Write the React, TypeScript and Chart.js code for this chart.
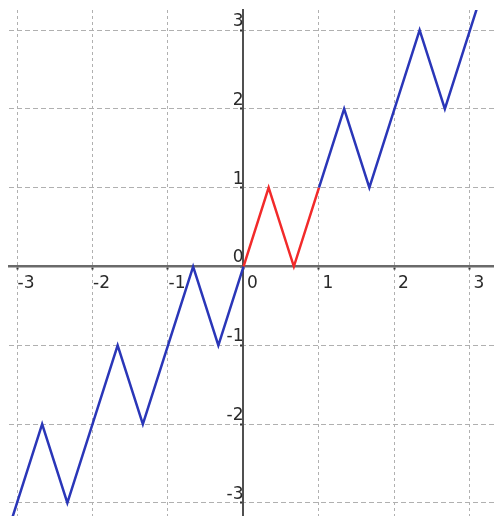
import React, { useEffect, useRef } from "react";
import { Chart, registerables } from "chart.js";

Chart.register(...registerables);

// Blue zig-zag for x <= 0
const blueLeftX = [-3.333, -3, -2.667, -2.333, -2, -1.667, -1.333, -1, -0.667, -0.333, 0];
const blueLeftY = [-4, -3, -2, -3, -2, -1, -2, -1, 0, -1, 0];
// Red segment on [0, 1]
const redX = [0, 0.333, 0.667, 1];
const redY = [0, 1, 0, 1];
// Blue zig-zag for x >= 1
const blueRightX = [1, 1.333, 1.667, 2, 2.333, 2.667, 3, 3.333];
const blueRightY = [1, 2, 1, 2, 3, 2, 3, 4];

const xMin = -3.106;
const xMax = 3.318;
const yMin = -3.165;
const yMax = 3.254;

const BLUE = "#2a36b8";
const RED = "#f22a2a";

const pts = (xs: number[], ys: number[]) => xs.map((x, i) => ({ x, y: ys[i] }));

const noPad = (s: any) => {
  s.paddingTop = 0;
  s.paddingBottom = 0;
  s.paddingLeft = 0;
  s.paddingRight = 0;
};

export default function App() {
  const ref = useRef<HTMLCanvasElement | null>(null);

  useEffect(() => {
    document.body.style.margin = "0";
    const canvas = ref.current;
    if (!canvas) return;
    const chart = new Chart(canvas, {
      type: "scatter",
      data: {
        datasets: [
          { data: pts(blueLeftX, blueLeftY), showLine: true, borderColor: BLUE, borderWidth: 2.5, pointRadius: 0, tension: 0 },
          { data: pts(blueRightX, blueRightY), showLine: true, borderColor: BLUE, borderWidth: 2.5, pointRadius: 0, tension: 0 },
          { data: pts(redX, redY), showLine: true, borderColor: RED, borderWidth: 2.5, pointRadius: 0, tension: 0 },
        ],
      },
      options: {
        responsive: false,
        animation: false,
        layout: { padding: { left: 9, top: 10, right: 0, bottom: 0 } },
        plugins: { legend: { display: false }, tooltip: { enabled: false } },
        scales: {
          x: {
            type: "linear",
            min: xMin,
            max: xMax,
            position: { y: 0 },
            afterFit: noPad,
            grid: { color: "#b0b0b0", lineWidth: 1, drawTicks: true, tickLength: 2, tickColor: "#333", tickWidth: 2 },
            border: { display: true, color: "#6a6a6a", width: 2.5, dash: [3, 3] },
            ticks: {
              stepSize: 1,
              includeBounds: false,
              padding: 5,
              labelOffset: 9,
              color: "#2a2a2a",
              font: { family: "DejaVu Sans", size: 17 },
              callback: (v: any) => String(v),
            },
          },
          y: {
            type: "linear",
            min: yMin,
            max: yMax,
            position: { x: 0 },
            afterFit: noPad,
            grid: { color: "#b0b0b0", lineWidth: 1, drawTicks: true, tickLength: 2, tickColor: "#333", tickWidth: 2 },
            border: { display: true, color: "#505050", width: 2, dash: [5, 3] },
            ticks: {
              stepSize: 1,
              includeBounds: false,
              padding: 6,
              labelOffset: -8.5,
              color: "#2a2a2a",
              font: { family: "DejaVu Sans", size: 17 },
              callback: (v: any) => String(v),
            },
          },
        },
      },
    });
    return () => chart.destroy();
  }, []);

  return <canvas ref={ref} width={494} height={516} style={{ display: "block" }} />;
}
